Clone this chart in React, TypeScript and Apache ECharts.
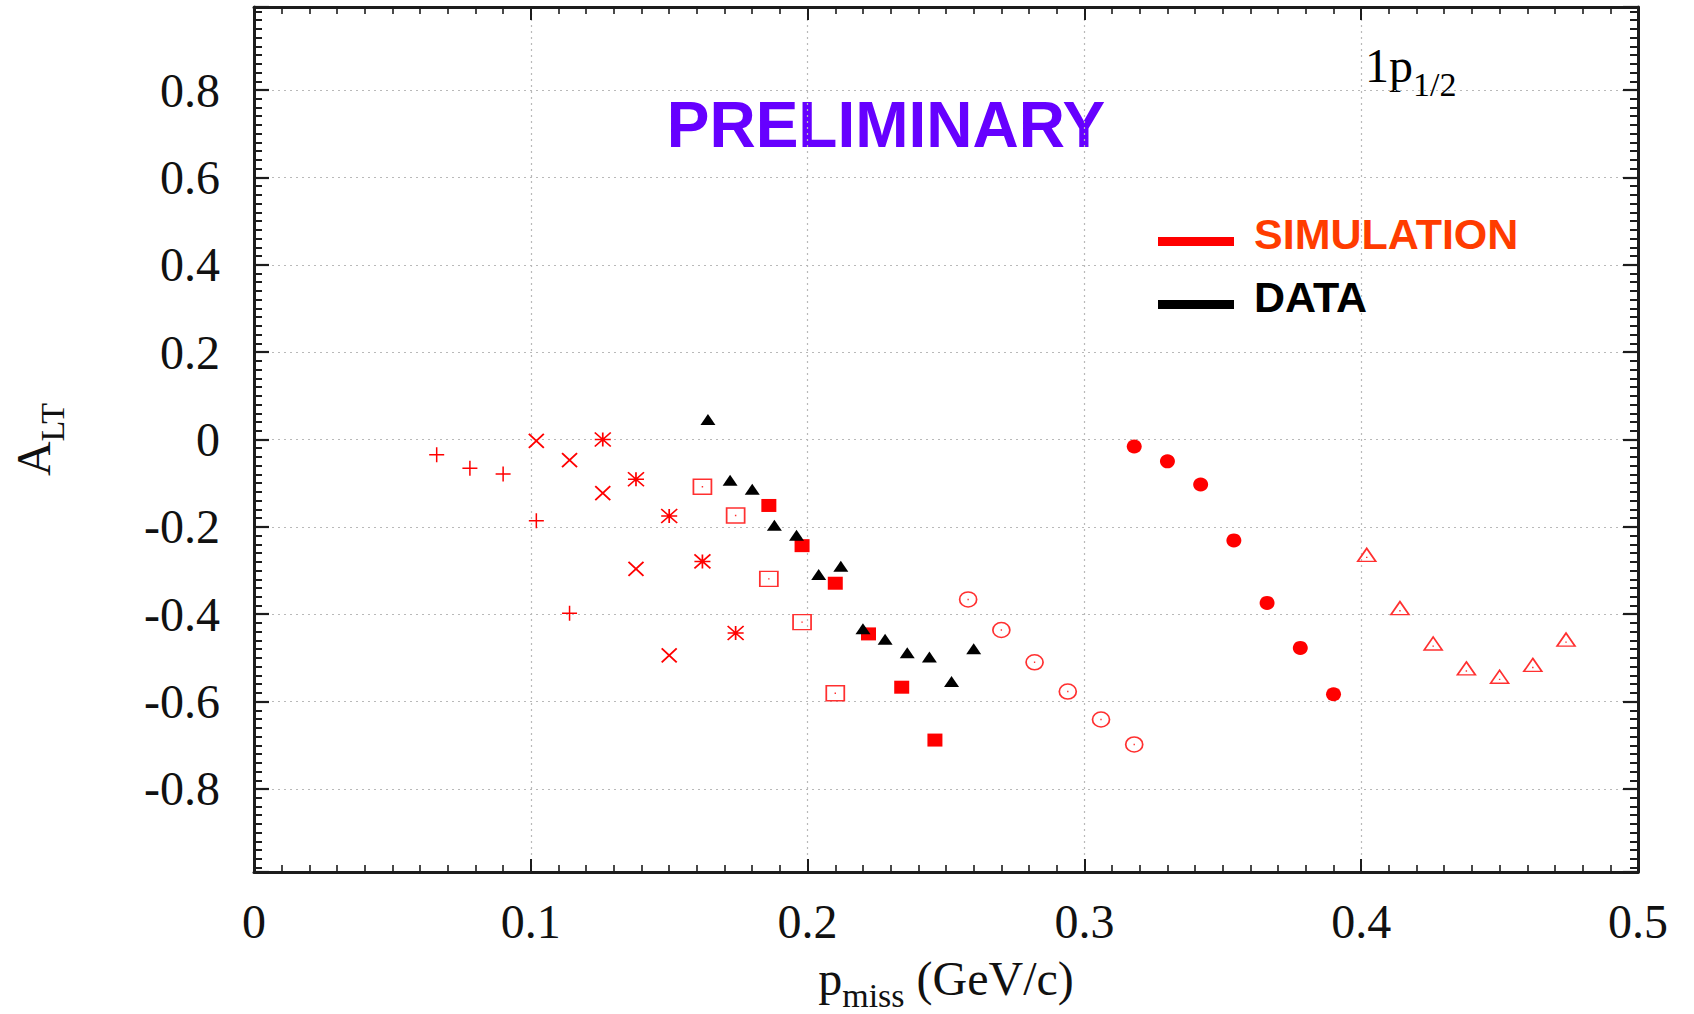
import React, { useEffect, useRef } from "react";
import * as echarts from "echarts";

// ---- data (p_miss in GeV/c, A_LT) ----
const plusX = [0.066, 0.078, 0.09, 0.102, 0.114];
const plusY = [-0.035, -0.066, -0.079, -0.186, -0.398];

const crossX = [0.102, 0.114, 0.126, 0.138, 0.15];
const crossY = [-0.003, -0.047, -0.123, -0.296, -0.494];

const starX = [0.126, 0.138, 0.15, 0.162, 0.174];
const starY = [0.0, -0.091, -0.175, -0.279, -0.443];

const openSqX = [0.162, 0.174, 0.186, 0.198, 0.21];
const openSqY = [-0.108, -0.174, -0.319, -0.418, -0.581];

const fillSqX = [0.186, 0.198, 0.21, 0.222, 0.234, 0.246];
const fillSqY = [-0.151, -0.243, -0.329, -0.445, -0.567, -0.688];

const openCircX = [0.258, 0.27, 0.282, 0.294, 0.306, 0.318];
const openCircY = [-0.366, -0.436, -0.51, -0.577, -0.641, -0.698];

const fillCircX = [0.318, 0.33, 0.342, 0.354, 0.366, 0.378, 0.39];
const fillCircY = [-0.016, -0.05, -0.103, -0.231, -0.374, -0.477, -0.583];

const openTriX = [0.402, 0.414, 0.426, 0.438, 0.45, 0.462, 0.474];
const openTriY = [-0.264, -0.386, -0.467, -0.524, -0.543, -0.516, -0.458];

const dataX = [0.164, 0.172, 0.18, 0.188, 0.196, 0.204, 0.212, 0.22, 0.228, 0.236, 0.244, 0.252, 0.26];
const dataY = [0.046, -0.093, -0.114, -0.196, -0.219, -0.309, -0.29, -0.433, -0.457, -0.488, -0.498, -0.554, -0.479];

const legendNames = ["SIMULATION", "DATA"];
const xMin = 0;
const xMax = 0.5;
const xInterval = 0.1;
const yMin = -0.99;
const yMax = 0.99;

const SERIF = "'Liberation Serif', 'Times New Roman', serif";
const SANS = "'Liberation Sans', Arial, sans-serif";
const RED = "#ff0000";
const AXIS = "#1c1c1c";

const pts = (xs: number[], ys: number[]) => xs.map((x, i) => [x, ys[i]]);

function strokeSeries(xs: number[], ys: number[], symbol: string, size: number[], color: string, width: number) {
  return {
    type: "scatter",
    name: legendNames[0],
    data: pts(xs, ys),
    symbol,
    symbolSize: size,
    itemStyle: { color: "rgba(0,0,0,0)", borderColor: color, borderWidth: width, opacity: 1 },
    z: 3,
    silent: true,
  };
}

function fillSeries(name: string, xs: number[], ys: number[], symbol: string, size: number[], color: string, z: number) {
  return {
    type: "scatter",
    name,
    data: pts(xs, ys),
    symbol,
    symbolSize: size,
    itemStyle: { color, opacity: 1 },
    z,
    silent: true,
  };
}

const SYM_PLUS = "path://M0 5 L10 5 M5 0 L5 10";
const SYM_CROSS = "path://M0 0 L10 10 M10 0 L0 10";
const SYM_STAR = "path://M0 0 L10 10 M10 0 L0 10 M0 5 L10 5 M5 0 L5 10";
const SYM_OSQ = "path://M0 0 L10 0 L10 10 L0 10 Z M4.6 5 L5.4 5";
const SYM_OCIRC = "path://M0 5 A5 5 0 1 1 10 5 A5 5 0 1 1 0 5 Z M4.6 5 L5.4 5";
const SYM_OTRI = "path://M5 0 L10 10 L0 10 Z M4.6 7 L5.4 7";
// legend bar sitting in the lower part of its icon box (the zero-area lines only fix the box)
const LEGEND_BAR = "path://M0 0 L76 0 M0 17 L76 17 L76 26 L0 26 Z M0 28 L76 28";

const tickCommon = {
  axisLine: { show: true, onZero: false, lineStyle: { color: AXIS, width: 3 } },
  splitLine: { show: false },
};

const splitDotted = { show: true, lineStyle: { type: [2, 4], color: "#b9b9b9", width: 1.2 } };

const nameRich = {
  m: { fontFamily: SERIF, fontSize: 48, lineHeight: 72, color: "#111" },
  s: { fontFamily: SERIF, fontSize: 34, lineHeight: 22, verticalAlign: "bottom", color: "#111" },
};

const xNameRich = {
  m: { fontFamily: SERIF, fontSize: 48, lineHeight: 68, color: "#111" },
  s: { fontFamily: SERIF, fontSize: 34, lineHeight: 22, verticalAlign: "bottom", color: "#111" },
};

function buildOption() {
  return {
    animation: false,
    backgroundColor: "#ffffff",
    grid: { left: 254, right: 56, top: 7, bottom: 142, containLabel: false, outerBoundsMode: "none" },
    legend: {
      orient: "vertical",
      left: 1158,
      top: 212,
      padding: 0,
      itemGap: 19,
      itemWidth: 76,
      itemHeight: 28,
      symbolKeepAspect: false,
      selectedMode: false,
      textStyle: {
        fontFamily: SANS,
        fontWeight: "bold",
        fontSize: 43,
        lineHeight: 44,
        padding: [0, 0, 0, 15],
      },
      data: [
        { name: legendNames[0], icon: LEGEND_BAR, itemStyle: { color: RED, borderWidth: 0 }, textStyle: { color: "#ff3c00" } },
        { name: legendNames[1], icon: LEGEND_BAR, itemStyle: { color: "#000000", borderWidth: 0 }, textStyle: { color: "#000000" } },
      ],
    },
    xAxis: [
      {
        type: "value",
        position: "bottom",
        min: xMin,
        max: xMax,
        interval: xInterval,
        ...tickCommon,
        axisTick: { show: true, inside: true, length: 13, lineStyle: { color: AXIS, width: 2 } },
        minorTick: { show: true, splitNumber: 10, length: 7, lineStyle: { color: AXIS, width: 1.6 } },
        axisLabel: { show: true, margin: 25, fontFamily: SERIF, fontSize: 48, color: "#111" },
        splitLine: splitDotted,
        name: "{m|p}{s|miss}{m| (GeV/c)}",
        nameLocation: "middle",
        nameGap: 72,
        nameTextStyle: { rich: xNameRich },
      },
      {
        type: "value",
        position: "top",
        min: xMin,
        max: xMax,
        interval: xInterval,
        ...tickCommon,
        axisTick: { show: true, inside: true, length: 13, lineStyle: { color: AXIS, width: 2 } },
        minorTick: { show: true, splitNumber: 10, length: 7, lineStyle: { color: AXIS, width: 1.6 } },
        axisLabel: { show: false },
      },
    ],
    yAxis: [
      {
        type: "value",
        position: "left",
        min: yMin,
        max: yMax,
        splitNumber: 10,
        ...tickCommon,
        axisTick: { show: true, inside: true, length: 15, lineStyle: { color: AXIS, width: 2.2 } },
        minorTick: { show: true, splitNumber: 10, length: 8, lineStyle: { color: AXIS, width: 2 } },
        axisLabel: {
          show: true,
          margin: 34,
          fontFamily: SERIF,
          fontSize: 48,
          color: "#111",
          showMinLabel: false,
          showMaxLabel: false,
        },
        splitLine: splitDotted,
        name: "{m|A}{s|LT}",
        nameLocation: "middle",
        nameRotate: 90,
        nameGap: 185,
        nameTextStyle: { rich: nameRich },
      },
      {
        type: "value",
        position: "right",
        min: yMin,
        max: yMax,
        splitNumber: 10,
        ...tickCommon,
        axisTick: { show: true, inside: true, length: 15, lineStyle: { color: AXIS, width: 2.2 } },
        minorTick: { show: true, splitNumber: 10, length: 8, lineStyle: { color: AXIS, width: 2 } },
        axisLabel: { show: false },
      },
    ],
    graphic: [
      {
        type: "text",
        x: 886,
        y: 125,
        silent: true,
        style: {
          text: "PRELIMINARY",
          fill: "#6600ff",
          font: `bold 64px ${SANS}`,
          align: "center",
          verticalAlign: "middle",
        },
      },
      {
        type: "text",
        x: 1365,
        y: 29,
        silent: true,
        style: {
          text: "{m|1p}{s|1/2}",
          align: "left",
          verticalAlign: "top",
          rich: nameRich,
        },
      },
    ],
    series: [
      strokeSeries(plusX, plusY, SYM_PLUS, [15, 15], RED, 1.5),
      strokeSeries(crossX, crossY, SYM_CROSS, [15, 14], RED, 1.8),
      strokeSeries(starX, starY, SYM_STAR, [16, 14], RED, 1.6),
      strokeSeries(openSqX, openSqY, SYM_OSQ, [18, 15], "#ff3030", 1.6),
      strokeSeries(openCircX, openCircY, SYM_OCIRC, [17, 15], "#ff3030", 1.6),
      strokeSeries(openTriX, openTriY, SYM_OTRI, [18, 13], "#ff3030", 1.6),
      fillSeries(legendNames[0], fillSqX, fillSqY, "rect", [15, 13], RED, 3),
      fillSeries(legendNames[0], fillCircX, fillCircY, "circle", [15, 14], RED, 3),
      fillSeries(legendNames[1], dataX, dataY, "triangle", [15, 11], "#000000", 4),
    ],
  };
}

export default function App() {
  const ref = useRef<HTMLDivElement>(null);
  useEffect(() => {
    if (!ref.current) return;
    const chart = echarts.init(ref.current, undefined, { renderer: "svg" });
    chart.setOption(buildOption() as any);
    return () => chart.dispose();
  }, []);
  return (
    <div
      ref={ref}
      style={{ position: "absolute", left: 0, top: 0, width: 1694, height: 1014, background: "#fff" }}
    />
  );
}
